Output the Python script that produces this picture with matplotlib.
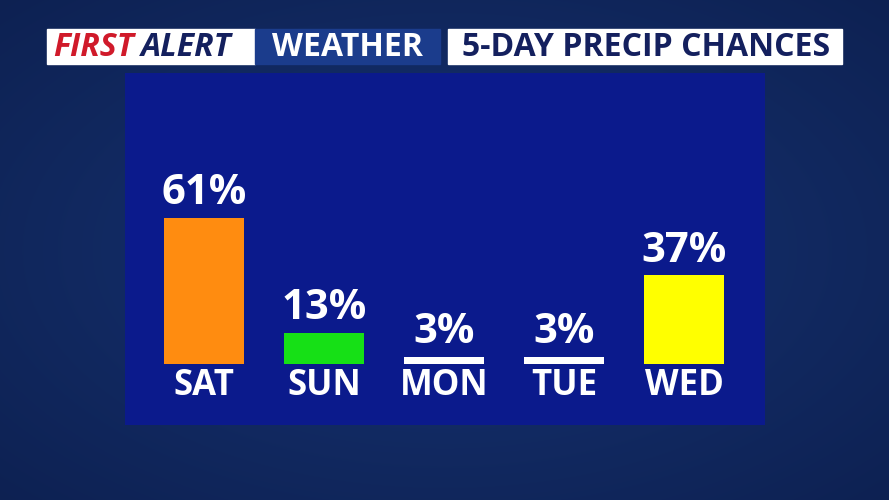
import numpy as np
import matplotlib.pyplot as plt
from matplotlib.patches import Rectangle

# Data
days = ['SAT', 'SUN', 'MON', 'TUE', 'WED']
chances = [61, 13, 3, 3, 37]
bar_colors = ['#ff8c10', '#16e016', '#ffffff', '#ffffff', '#ffff00']

W, H = 889, 500
fig = plt.figure(figsize=(W / 100, H / 100), dpi=100)

# background in pixel coordinates
bg = fig.add_axes([0, 0, 1, 1])
bg.set_xlim(0, W)
bg.set_ylim(H, 0)
bg.axis('off')
yy, xx = np.mgrid[0:H, 0:W]
r = np.hypot((xx - W / 2) / W, (yy - H / 2) / H)
shade = np.clip(1 - r * 0.9, 0, 1)
img = np.zeros((H, W, 3))
img[..., 0] = 0.03 + 0.06 * shade
img[..., 1] = 0.09 + 0.11 * shade
img[..., 2] = 0.25 + 0.20 * shade
bg.imshow(img, extent=(0, W, H, 0), aspect='auto')

font = 'Open Sans'

# header
bg.add_patch(Rectangle((47, 29), 208, 35, color='white'))
bg.add_patch(Rectangle((255, 29), 185, 35, color='#1b3c8c'))
bg.add_patch(Rectangle((448, 29), 394, 35, color='white'))
bg.text(53, 47, 'FIRST', color='#d01a2a', fontsize=23, fontweight='bold',
        style='italic', va='center', family=font)
bg.text(141, 47, 'ALERT', color='#14205e', fontsize=23, fontweight='bold',
        style='italic', va='center', family=font)
bg.text(347, 47, 'WEATHER', color='white', fontsize=23, fontweight='bold',
        va='center', ha='center', family=font)
bg.text(646, 47, '5-DAY PRECIP CHANCES', color='#14205e', fontsize=23,
        fontweight='bold', va='center', ha='center', family=font)

# chart panel
px_per = 2.393
ax = fig.add_axes([125 / W, 1 - 425 / H, 640 / W, 352 / H])
ax.set_facecolor('#0b1a8c')
ax.set_xlim((125 - 204) / 120, (765 - 204) / 120)
ax.set_ylim(-(425 - 364) / px_per, (364 - 73) / px_per)
for s in ax.spines.values():
    s.set_visible(False)
ax.set_xticks([])
ax.set_yticks([])

x = np.arange(len(days))
ax.bar(x, chances, width=0.667, color=bar_colors)
for i, (d, c) in enumerate(zip(days, chances)):
    ax.text(i, c + 1.5, f'{c}%', color='white', fontsize=30, fontweight='bold',
            ha='center', va='bottom', family=font)
    ax.text(i, -1.5, d, color='white', fontsize=25, fontweight='bold',
            ha='center', va='top', family=font)

fig.savefig('out.png', dpi=100)
